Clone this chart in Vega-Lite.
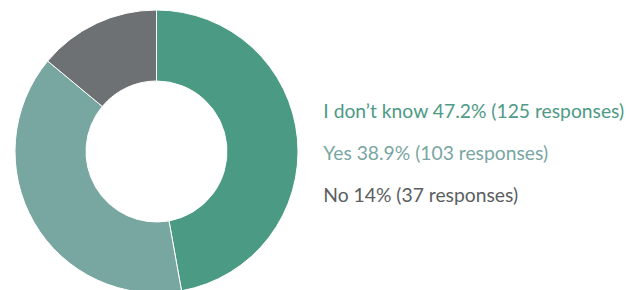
{
  "$schema": "https://vega.github.io/schema/vega-lite/v6.json",
  "width": 313,
  "height": 303,
  "padding": 0,
  "background": "white",
  "data": {
    "values": [
      {"label": "I don’t know 47.2% (125 responses)", "responses": 125, "order": 1},
      {"label": "Yes 38.9% (103 responses)", "responses": 103, "order": 2},
      {"label": "No 14% (37 responses)", "responses": 37, "order": 3}
    ]
  },
  "mark": {"type": "arc", "innerRadius": 70.5, "outerRadius": 141.5, "stroke": "white", "strokeWidth": 1},
  "encoding": {
    "theta": {"field": "responses", "type": "quantitative", "stack": true},
    "order": {"field": "order", "type": "quantitative"},
    "color": {
      "field": "label",
      "type": "nominal",
      "sort": null,
      "scale": {
        "domain": ["I don’t know 47.2% (125 responses)", "Yes 38.9% (103 responses)", "No 14% (37 responses)"],
        "range": ["#4b9b84", "#78a6a0", "#6d7174"]
      },
      "legend": {
        "title": null,
        "orient": "none",
        "legendX": 304,
        "legendY": 102,
        "symbolSize": 0,
        "symbolStrokeWidth": 0,
        "symbolOpacity": 0,
        "labelOffset": 0,
        "labelFont": "Lato",
        "labelFontSize": 19.3,
        "labelLimit": 400,
        "rowPadding": 22.2,
        "labelColor": {"expr": "datum.index === 0 ? '#4e9a86' : datum.index === 1 ? '#7aa6a2' : '#5a5e60'"}
      }
    }
  },
  "config": {"view": {"stroke": null}}
}
